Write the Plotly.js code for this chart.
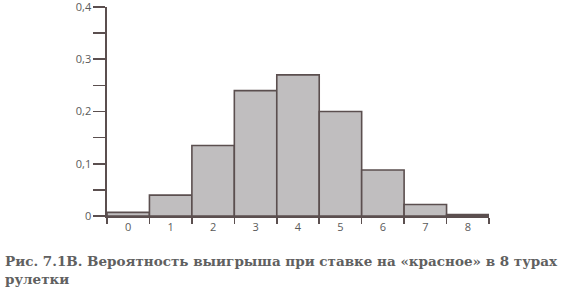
<!DOCTYPE html>
<html>
<head>
<meta charset="utf-8">
<script src="https://cdn.plot.ly/plotly-3.0.1.min.js"></script>
<style>html,body{margin:0;padding:0;background:#fff;}#chart{width:563px;height:291px;}</style>
</head>
<body>
<div id="chart"></div>
<script>
const wins = [0, 1, 2, 3, 4, 5, 6, 7, 8];
const probabilities = [0.007, 0.04, 0.135, 0.24, 0.27, 0.2, 0.088, 0.022, 0.003];
const xTickLabels = ['0', '1', '2', '3', '4', '5', '6', '7', '8'];
const yTickVals = [0, 0.1, 0.2, 0.3, 0.4];
const yTickText = ['0', '0,1', '0,2', '0,3', '0,4'];
const caption = 'Рис. 7.1В. Вероятность выигрыша при ставке на «красное» в 8 турах<br>рулетки';

const axisColor = '#5b4f4f';
const boundaries = wins.map(v => v - 0.5).concat([wins[wins.length - 1] + 0.5]);

const trace = {
  type: 'bar',
  x: wins,
  y: probabilities,
  width: 1,
  marker: {color: '#c0bebf', line: {color: axisColor, width: 1.6}},
  hoverinfo: 'skip'
};

const layout = {
  width: 563, height: 291,
  margin: {l: 107, r: 74, t: 7, b: 75},
  paper_bgcolor: '#fff', plot_bgcolor: '#fff',
  separators: ', ',
  showlegend: false,
  bargap: 0,
  font: {family: '"Open Sans", sans-serif', color: '#5a5a5a', size: 11},
  xaxis: {
    range: [-0.5, 8.5],
    tickvals: wins, ticktext: xTickLabels,
    ticks: '', showgrid: false, zeroline: false,
    showline: true, linecolor: axisColor, linewidth: 1.6,
    tickfont: {size: 11, color: '#5a5a5a'},
    minor: {tickvals: boundaries, ticks: 'outside', ticklen: 6, tickwidth: 1.6, tickcolor: axisColor, showgrid: false},
    fixedrange: true
  },
  yaxis: {
    range: [0, 0.4],
    tickvals: yTickVals, ticktext: yTickText,
    ticks: 'outside', ticklen: 12, tickwidth: 1.6, tickcolor: axisColor,
    ticklabeloverflow: 'allow',
    showgrid: false, zeroline: false,
    showline: true, linecolor: axisColor, linewidth: 1.6,
    tickfont: {size: 11, color: '#5a5a5a'},
    minor: {dtick: 0.05, ticks: 'outside', ticklen: 12, tickwidth: 1.6, tickcolor: axisColor, showgrid: false},
    fixedrange: true
  },
  annotations: [{
    text: caption,
    xref: 'paper', yref: 'paper',
    x: (3 - 107) / 382, y: -(251 - 216) / 209,
    xanchor: 'left', yanchor: 'top', align: 'left',
    showarrow: false,
    font: {family: '"DejaVu Serif", serif', size: 13.5, color: '#606060', weight: 'bold'}
  }]
};

Plotly.newPlot('chart', [trace], layout, {displayModeBar: false, staticPlot: true});
</script>
</body>
</html>
